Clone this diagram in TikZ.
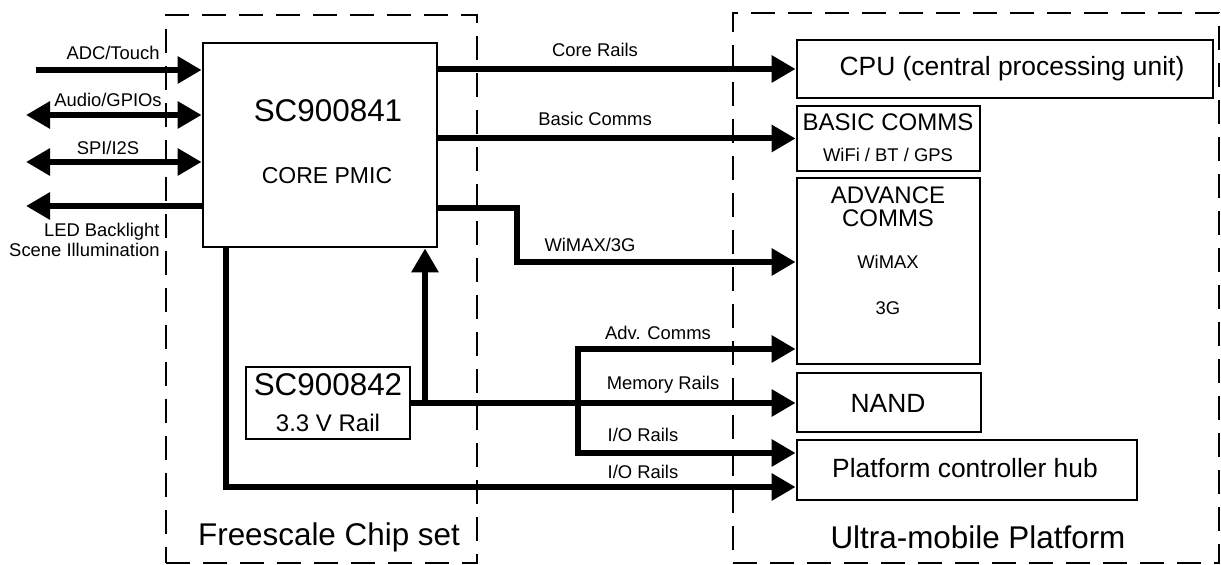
\documentclass[tikz,border=0pt]{standalone}
\usepackage{fontspec}
\setmainfont{Liberation Sans}
\usetikzlibrary{arrows.meta, calc, fit, positioning}

\tikzset{
	box/.style={draw, line width=1.4pt, inner sep=0pt},
	grp/.style={draw, line width=1.2pt, dash pattern=on 12pt off 6.5pt, inner sep=0pt},
	rail/.style={line width=3pt, -{Triangle[length=12pt,width=13pt]}},
	rails/.style={line width=3pt, {Triangle[length=12pt,width=13pt]}-{Triangle[length=12pt,width=13pt]}},
	txts/.style={font=\fontsize{9.2}{10}\selectfont, inner sep=0pt},
	txtm/.style={font=\fontsize{12}{11.5}\selectfont, inner sep=0pt, align=center},
	txtb/.style={font=\fontsize{13.2}{15}\selectfont, inner sep=0pt},
	txtl/.style={font=\fontsize{15.7}{17}\selectfont, inner sep=0pt}
}

\begin{document}
\begin{tikzpicture}[x=.5pt,y=-.5pt]

	\useasboundingbox (0,0) rectangle (1221,565);

	\coordinate (G1) at (166,15);
	\coordinate (G2) at (477,563);
	\coordinate (G3) at (733,13);
	\coordinate (G4) at (1219,563);
	\node (chip) [grp, fit={(G1) (G2)}] {};
	\node (umpc) [grp, fit={(G3) (G4)}] {};
	\node (chipT) [txtl] at (329,537) {Freescale Chip set};
	\node (umpcT) [txtl] at (978,537) {Ultra-mobile Platform};

	\coordinate (P1) at (203,43);
	\coordinate (P2) at (437,247);
	\node (PMIC) [box, fit={(P1) (P2)}] {};
	\node (PMICa) [txtl] at (328,111) {SC900841};
	\node (PMICb) [font=\fontsize{11.5}{13}\selectfont, inner sep=0pt] at (327,176) {CORE PMIC};

	\coordinate (S1) at (246,367);
	\coordinate (S2) at (410,439);
	\node (SC842) [box, fit={(S1) (S2)}] {};
	\node (SC842a) [txtl] at (328,385) {SC900842};
	\node (SC842b) [txtm] at (328,423) {3.3 V Rail};

	\coordinate (C1) at (797,40);
	\coordinate (C2) at (1213,98);
	\node (CPU) [box, fit={(C1) (C2)}] {};
	\node (CPUa) [txtb] at (1012,69) {CPU (central processing unit)};

	\coordinate (B1) at (797,106);
	\coordinate (B2) at (980,171);
	\node (BASIC) [box, fit={(B1) (B2)}] {};
	\node (BASICa) [txtm] at (888,122) {BASIC COMMS};
	\node (BASICb) [txts] at (888,155) {WiFi / BT / GPS};

	\coordinate (A1) at (797,178);
	\coordinate (A2) at (980,364);
	\node (ADV) [box, fit={(A1) (A2)}] {};
	\node (ADVa) [txtm] at (888,207) {ADVANCE\\COMMS};
	\node (ADVb) [txts] at (888,262) {WiMAX};
	\node (ADVc) [txts] at (888,308) {3G};

	\coordinate (N1) at (797,373);
	\coordinate (N2) at (981,432);
	\node (NAND) [box, fit={(N1) (N2)}] {};
	\node (NANDa) [txtb] at (888,403) {NAND};

	\coordinate (H1) at (797,440);
	\coordinate (H2) at (1137,500);
	\node (PCH) [box, fit={(H1) (H2)}] {};
	\node (PCHa) [txtb] at (965,468) {Platform controller hub};

	\coordinate (adc) at (36,70);
	\coordinate (gpio) at (26,115);
	\coordinate (spi) at (26,162);
	\coordinate (led) at (26,206);
	\draw[rail] (adc) -- (adc -| PMIC.west);
	\draw[rails] (gpio) -- (gpio -| PMIC.west);
	\draw[rails] (spi) -- (spi -| PMIC.west);
	\draw[rail] (led -| PMIC.west) -- (led);
	\node (adcT) [txts, anchor=east] at (160,53) {ADC/Touch};
	\node (gpioT) [txts] at (108,100) {Audio/GPIOs};
	\node (spiT) [txts] at (108,148) {SPI/I2S};
	\node (ledT) [txts, anchor=east, align=right] at (160,240) {LED Backlight\\Scene Illumination};

	\coordinate (wm1) at (517,208);
	\coordinate (wm2) at (517,262);
	\draw[rail] (PMIC.east |- CPU) -- (CPU.west);
	\draw[rail] (PMIC.east |- BASIC) -- (BASIC.west);
	\draw[rail] (PMIC.east |- wm1) -- (wm1) -- (wm2) -- (wm2 -| ADV.west);
	\node (coreT) [txts] at (595,50) {Core Rails};
	\node (basicT) [txts] at (595,119) {Basic Comms};
	\node (wmT) [txts] at (590,245) {WiMAX/3G};

	\coordinate (up) at (425,403);
	\coordinate (vb1) at (578,349);
	\coordinate (vb2) at (578,453);
	\coordinate (bt) at (226,487);
	\draw[rail] (up) -- (up |- PMIC.south);
	\draw[rail] (SC842.east) -- (SC842.east -| NAND.west);
	\draw[rails] (vb1 -| ADV.west) -- (vb1) -- (vb2) -- (vb2 -| PCH.west);
	\draw[rail] (PMIC.south -| bt) -- (bt) -- (bt -| PCH.west);
	\node (advT) [txts] at (658,333) {Adv. Comms};
	\node (memT) [txts] at (663,385) {Memory Rails};
	\node (io1T) [txts] at (643,435) {I/O Rails};
	\node (io2T) [txts] at (643,472) {I/O Rails};

\end{tikzpicture}
\end{document}
